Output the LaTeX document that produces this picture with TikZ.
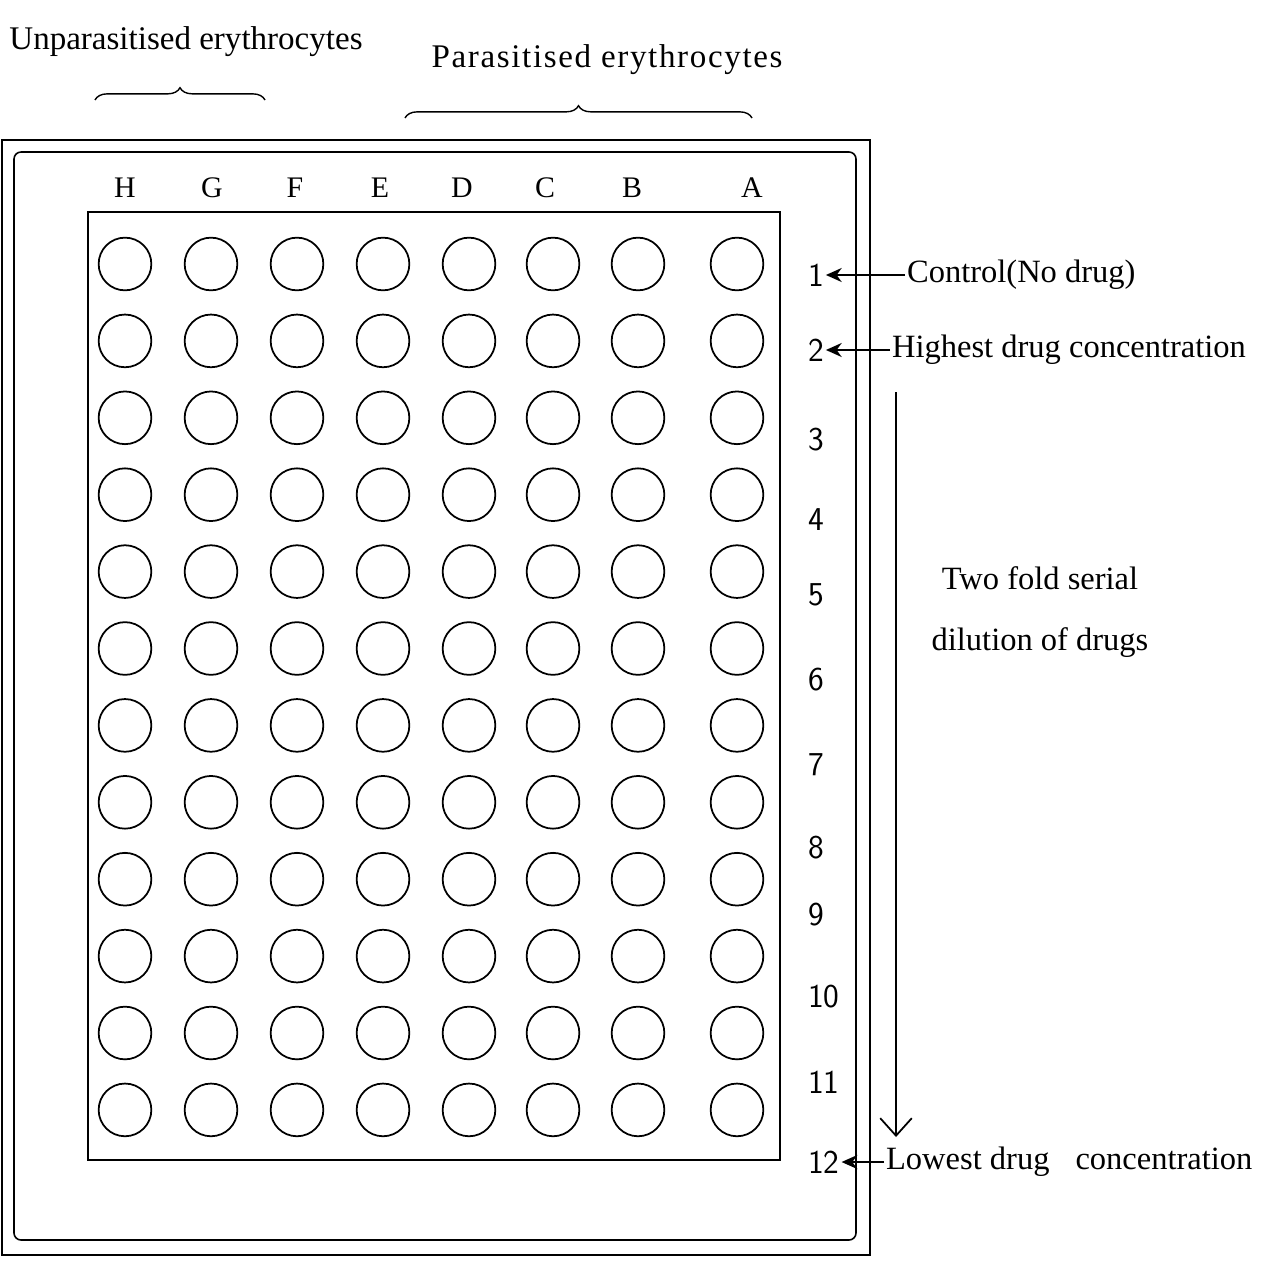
\documentclass[tikz,border=0pt]{standalone}
\usepackage{fontspec}
\setmainfont{Liberation Serif}
\newfontfamily\widefont[LetterSpace=5]{Liberation Serif}
\usetikzlibrary{arrows.meta,decorations.pathreplacing,positioning}

\begin{document}
\begin{tikzpicture}[x=0.02cm,y=-0.02cm,
  well/.style={circle,draw,line width=1pt,minimum size=30pt,inner sep=0pt},
  lbl/.style={font=\fontsize{18.5}{21}\selectfont,inner sep=1pt},
  toplbl/.style={font=\fontsize{18.8}{21}\selectfont,inner sep=1pt},
  collbl/.style={font=\fontsize{17}{20}\selectfont,inner sep=1pt},
  rowlbl/.style={font=\sffamily\fontsize{19}{21}\selectfont,inner sep=1pt,anchor=west},
  plate/.style={line width=0.9pt},
  note/.style={-{Stealth[length=9pt,width=8pt]},line width=0.9pt},
  brace/.style={decorate,decoration={brace,amplitude=7pt},line width=0.8pt}]
\useasboundingbox (0,0) rectangle (1267,1264);
% plate outline
\draw[plate] (2,140) rectangle (870,1255);
\draw[plate,rounded corners=4pt] (14,152) rectangle (856,1240);
\draw[plate] (88,212) rectangle (780,1160);
% column letters
\foreach \c/\lx in {H/125,G/212,F/295,E/380,D/462,C/545,B/632,A/752}
  \node[collbl] (col\c) at (\lx,188) {\c};
% wells
\foreach \c/\x in {H/125,G/211,F/297,E/383,D/469,C/553,B/638,A/737} {
  \foreach \r in {1,...,12} {
    \pgfmathsetmacro\y{264+76.9*(\r-1)}
    \node[well] (w\c\r) at (\x,\y) {};
  }
}
% row numbers
\foreach \r/\ry in {1/275,2/350,3/440,4/520,5/595,6/680,7/765,8/848,9/915,10/997,11/1082,12/1162}
  \node[rowlbl] (n\r) at (806,\ry) {\r};
% groups of cells
\node[toplbl] (unpar) at (186,42) {Unparasitised erythrocytes};
\node[toplbl] (par) at (607,60) {\widefont Parasitised erythrocytes};
\coordinate (ubl) at (95,100);
\coordinate (ubr) at (265,100);
\coordinate (pbl) at (405,118);
\coordinate (pbr) at (752,118);
\draw[brace] (ubl) -- (ubr);
\draw[brace] (pbl) -- (pbr);
% notes on the right
\node[lbl,anchor=west] (ctrl) at (905,275) {Control(No drug)};
\node[lbl,anchor=west] (high) at (890,350) {Highest drug concentration};
\node[lbl,anchor=west] (low) at (884,1162) {Lowest drug\hspace{0.8em}concentration};
\node[lbl] (twofold) at (1040,578) {Two fold serial};
\node[lbl] (dilution) at (1040,643) {dilution of drugs};
\draw[note] (ctrl.west) -- (n1.east);
\draw[note] (high.west) -- (n2.east);
\draw[note] (low.west) -- (n12.east);
\coordinate (dtop) at (896,392);
\coordinate (dbot) at (896,1137);
\draw[-{Straight Barb[length=10pt,width=18pt]},line width=1pt] (dtop) -- (dbot);
\end{tikzpicture}
\end{document}
